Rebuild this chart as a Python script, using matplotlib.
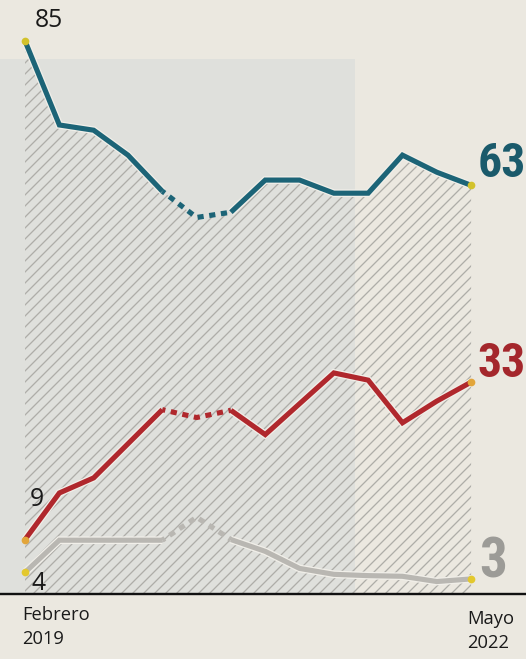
import numpy as np
import matplotlib
matplotlib.use("Agg")
import matplotlib.pyplot as plt
import matplotlib.patheffects as pe
from matplotlib import font_manager
from matplotlib.patches import Rectangle

# Encuestas (índice de medición) entre febrero 2019 y mayo 2022
x = np.arange(14)
azul = [85, 72.2, 71.4, 67.6, 62.1, 58.1, 58.9, 63.8, 63.8, 61.8, 61.8, 67.6, 65.0, 63]
rojo = [9, 16.1, 18.4, 23.6, 28.8, 27.6, 28.7, 25.0, 29.7, 34.4, 33.3, 26.8, 30.1, 33]
gris = [4, 8.9, 8.9, 8.9, 8.9, 12.4, 9.0, 7.2, 4.6, 3.7, 3.5, 3.4, 2.6, 3]
hueco = (4, 6)  # tramo punteado

fecha_ini = "Febrero\n2019"
fecha_fin = "Mayo\n2022"

c_azul = "#1c6477"
c_rojo = "#b0282d"
c_gris = "#b9b7b2"
fondo = "#ebe8e0"

plt.rcParams['font.family'] = ['Open Sans', 'DejaVu Sans']
plt.rcParams['hatch.linewidth'] = 0.7

# fuente estrecha para las cifras finales si existe
instaladas = {f.name for f in font_manager.fontManager.ttflist}
estrecha = None
for nombre in ["Liberation Sans Narrow", "DejaVu Sans Condensed", "Roboto Condensed",
               "Open Sans Condensed"]:
    if nombre in instaladas:
        estrecha = nombre
        break
if estrecha:
    fam_big, size_big, size_3 = [estrecha, "DejaVu Sans"], 26, 30
else:
    fam_big, size_big, size_3 = ["Liberation Sans", "DejaVu Sans"], 22, 28

fig = plt.figure(figsize=(526 / 132, 659 / 132), dpi=132, facecolor=fondo)
ax = fig.add_axes([0, 65 / 659, 1, 594 / 659])
ax.set_facecolor(fondo)
ax.set_xlim(-0.73, 14.6)
ax.set_ylim(0.7, 91.25)

# zona gris de fondo (papel)
ax.add_patch(Rectangle((0, 0), 355 / 526, 0.9, transform=ax.transAxes,
                       facecolor="#dfe0dc", edgecolor="none", zorder=0))

# área rayada bajo la línea azul
ax.fill_between(x, ax.get_ylim()[0], azul, facecolor="none", hatch="////",
                edgecolor="#aeada8", linewidth=0, zorder=1)

halo = [pe.Stroke(linewidth=4.2, foreground="#f1efe9"), pe.Normal()]
a, b = hueco
for serie, color in [(gris, c_gris), (rojo, c_rojo), (azul, c_azul)]:
    kw = dict(color=color, lw=2.8, solid_joinstyle="miter", zorder=3, path_effects=halo)
    ax.plot(x[:a + 1], serie[:a + 1], solid_capstyle="butt", **kw)
    ax.plot(x[b:], serie[b:], solid_capstyle="butt", **kw)
    ax.plot(x[a:b + 1], serie[a:b + 1], color=color, lw=2.8, linestyle=(0.6, (1.2, 1.1)),
            dash_capstyle="butt", zorder=3)

# puntos extremos
for serie, color in [(azul, "#d2c22c"), (rojo, "#e2a53a"), (gris, "#e3c82e")]:
    ax.plot([x[0], x[-1]], [serie[0], serie[-1]], "o", ms=4.2, color=color,
            mec="none", zorder=4)

# valores iniciales
ax.annotate(f"{azul[0]}", (x[0], azul[0]), xytext=(13, 11), textcoords="offset points",
            ha="center", va="center", fontsize=13.5, color="#1a1a1a")
ax.annotate(f"{rojo[0]}", (x[0], rojo[0]), xytext=(6.5, 22), textcoords="offset points",
            ha="center", va="center", fontsize=13.5, color="#1a1a1a")
ax.annotate(f"{gris[0]}", (x[0], gris[0]), xytext=(7.5, -6), textcoords="offset points",
            ha="center", va="center", fontsize=13.5, color="#1a1a1a")

# valores finales
big = dict(textcoords="offset points", ha="left", va="baseline",
           fontweight="bold", family=fam_big)
ax.annotate(f"{azul[-1]}", (x[-1], azul[-1]), xytext=(3.3, 4.5), color="#1a5a6b",
            fontsize=size_big, **big)
ax.annotate(f"{rojo[-1]}", (x[-1], rojo[-1]), xytext=(3.3, 3), color="#a4272c",
            fontsize=size_big, **big)
ax.annotate(f"{gris[-1]}", (x[-1], gris[-1]), xytext=(4.5, 1), color="#9c9b97",
            fontsize=size_3, **big)

for s in ["top", "right", "left"]:
    ax.spines[s].set_visible(False)
ax.spines["bottom"].set_linewidth(1.3)
ax.spines["bottom"].set_color("#111111")
ax.set_xticks([])
ax.set_yticks([])

fig.text(22 / 526, 1 - 606 / 659, fecha_ini, ha="left", va="top", fontsize=10,
         color="#1a1a1a", linespacing=1.45)
fig.text(467 / 526, 1 - 610 / 659, fecha_fin, ha="left", va="top", fontsize=10,
         color="#1a1a1a", linespacing=1.45)

fig.savefig("out.png", dpi=132, facecolor=fondo)
